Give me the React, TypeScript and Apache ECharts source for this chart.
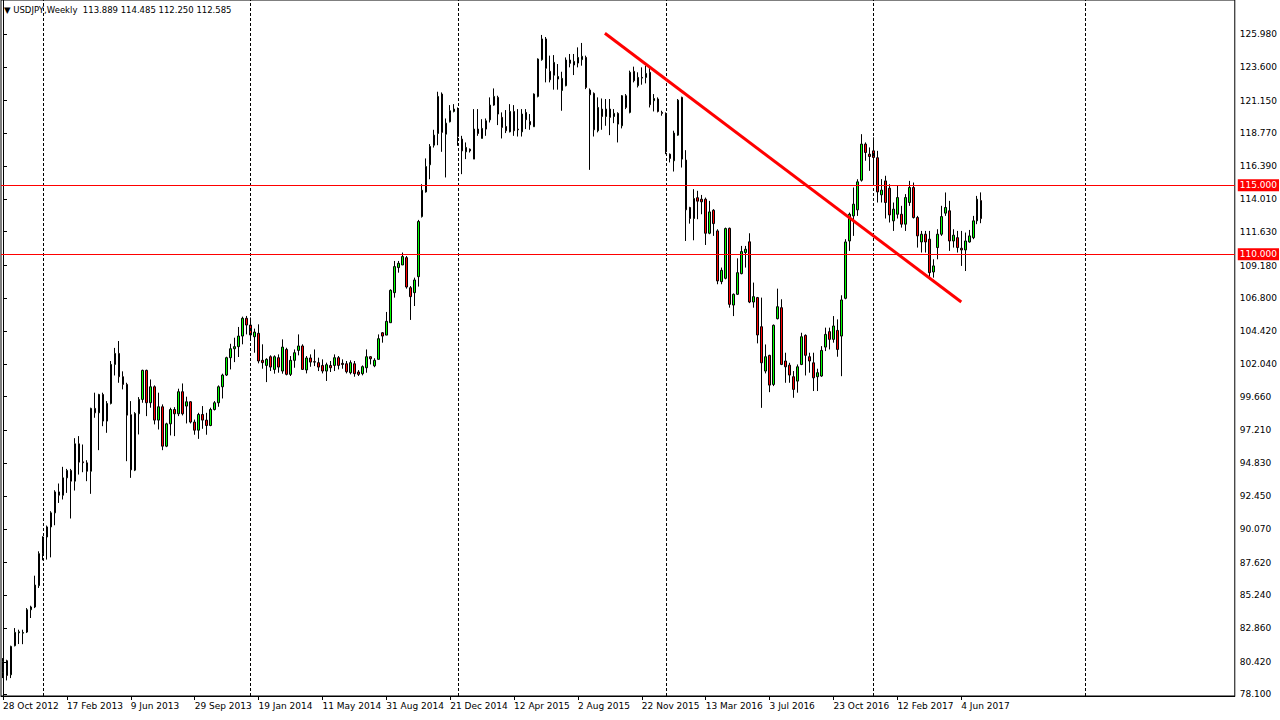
import React, { useEffect, useRef } from "react";
import * as echarts from "echarts";

const SYMBOL = "USDJPY,Weekly";
const START_UTC = Date.UTC(2012, 9, 28);
const TOTAL_SLOTS = 309;
const LABEL_EVERY = 16;
const MONTHS = ["Jan", "Feb", "Mar", "Apr", "May", "Jun", "Jul", "Aug", "Sep", "Oct", "Nov", "Dec"];

const opens = [
  79.67, 80.5, 79.48, 81.59, 82.53, 82.5, 82.58, 84.2, 84.4, 85.95,
  88.27, 89.48, 90.21, 91.23, 92.75, 92.51, 93.77, 94.3, 93.53, 96.24,
  94.93, 94.86, 94.25, 98.81, 98.49, 99.82, 97.89, 99.17, 102.0, 102.8,
  101.11, 100.55, 98.35, 94.33, 98.42, 99.46, 101.57, 99.22, 100.38, 97.96,
  98.93, 96.07, 97.69, 98.73, 98.42, 100.02, 98.98, 99.29, 97.82, 97.23,
  98.37, 97.96, 97.57, 98.73, 99.22, 100.38, 101.23, 102.49, 103.14, 103.29,
  104.06, 105.35, 104.86, 104.01, 104.26, 102.3, 101.93, 102.56, 101.64, 102.49,
  101.52, 103.09, 101.28, 102.3, 103.02, 103.34, 101.6, 102.47, 102.2, 102.13,
  101.93, 101.52, 101.93, 101.93, 102.49, 102.08, 102.05, 101.4, 102.05, 101.45,
  101.33, 101.76, 102.56, 101.9, 102.37, 104.3, 104.13, 105.03, 107.21, 109.03,
  109.22, 109.75, 107.57, 107.21, 108.37, 112.73, 114.52, 116.49, 117.91, 118.76,
  121.62, 118.71, 119.61, 120.36, 120.53, 118.35, 117.43, 117.62, 116.9, 119.08,
  118.4, 119.08, 119.75, 120.82, 121.38, 119.93, 119.27, 118.88, 120.36, 119.08,
  118.88, 120.29, 119.63, 119.25, 121.45, 124.12, 125.62, 123.27, 122.99, 122.71,
  121.88, 122.23, 124.09, 123.73, 123.87, 124.12, 124.28, 121.91, 121.67, 118.96,
  120.53, 119.99, 120.53, 119.99, 120.22, 119.32, 121.5, 120.29, 123.27, 122.23,
  122.83, 122.83, 123.2, 121.14, 121.26, 120.29, 120.22, 117.26, 116.78, 118.64,
  121.38, 116.83, 113.39, 112.59, 114.1, 113.99, 113.99, 111.52, 113.19, 111.69,
  108.01, 108.25, 111.88, 106.31, 107.09, 108.59, 110.12, 110.9, 106.53, 106.85,
  104.74, 101.52, 102.66, 100.55, 105.32, 106.12, 102.25, 101.95, 101.11, 100.79,
  102.0, 104.11, 102.56, 102.12, 101.11, 101.16, 103.26, 104.38, 103.82, 104.47,
  104.06, 106.8, 110.96, 112.78, 113.22, 115.37, 117.99, 117.26, 117.5, 117.0,
  114.31, 115.32, 114.79, 112.42, 112.9, 112.9, 112.18, 113.75, 114.84, 112.66,
  110.89, 111.45, 111.09, 108.71, 110.48, 111.45, 112.98, 113.15, 110.96, 111.2,
  110.43, 110.31, 110.89, 111.2, 112.42, 113.889,
];

const closes = [
  80.45, 79.43, 81.54, 82.56, 82.6, 82.55, 84.2, 84.4, 85.99, 88.27,
  89.48, 90.21, 91.23, 92.75, 92.51, 93.77, 94.3, 93.53, 96.24, 94.91,
  94.87, 94.25, 98.81, 98.49, 99.82, 97.89, 99.17, 102.0, 102.8, 101.11,
  100.55, 98.32, 94.35, 98.44, 99.46, 101.57, 99.22, 100.38, 97.96, 98.93,
  96.07, 97.69, 98.73, 98.42, 100.02, 98.42, 99.29, 97.82, 97.23, 98.37,
  97.96, 97.57, 98.73, 99.22, 100.38, 101.23, 102.49, 103.14, 103.29, 104.06,
  105.35, 104.86, 104.14, 104.35, 102.25, 102.13, 102.37, 101.81, 102.56, 101.81,
  103.26, 101.28, 102.3, 102.85, 103.34, 101.64, 102.47, 102.17, 102.17, 101.81,
  101.52, 101.98, 101.76, 102.49, 101.93, 102.0, 101.47, 102.13, 101.33, 101.28,
  101.84, 102.56, 102.41, 102.3, 103.87, 104.06, 105.13, 107.38, 109.1, 109.34,
  109.83, 107.62, 106.92, 108.13, 112.37, 114.64, 116.36, 117.82, 118.64, 121.45,
  118.84, 119.51, 120.41, 120.53, 118.54, 117.5, 117.75, 117.5, 119.08, 118.76,
  119.13, 119.68, 120.82, 121.45, 120.17, 119.2, 118.96, 120.36, 118.96, 119.03,
  120.17, 119.76, 119.39, 121.62, 124.16, 125.62, 123.49, 122.66, 123.92, 122.9,
  122.76, 124.09, 123.85, 123.99, 124.28, 124.36, 122.1, 121.57, 119.03, 120.65,
  119.99, 120.53, 119.93, 120.22, 119.44, 121.5, 120.65, 123.2, 122.59, 122.83,
  122.78, 123.12, 120.85, 121.3, 120.36, 120.22, 117.43, 116.95, 118.79, 121.18,
  116.9, 113.22, 112.59, 114.04, 113.85, 113.8, 111.52, 113.07, 112.22, 108.06,
  108.83, 111.86, 106.36, 107.09, 108.66, 110.19, 110.36, 106.53, 106.92, 104.14,
  102.12, 102.56, 100.5, 104.84, 106.19, 102.0, 101.83, 101.23, 100.19, 101.83,
  104.01, 102.66, 102.25, 101.03, 101.4, 103.02, 104.18, 103.82, 104.79, 103.09,
  106.68, 110.89, 112.9, 113.63, 115.25, 117.99, 117.38, 117.09, 117.02, 114.52,
  114.65, 113.75, 112.85, 113.27, 114.11, 112.18, 114.11, 114.84, 112.66, 111.33,
  111.45, 110.89, 108.66, 109.15, 111.45, 112.73, 113.39, 110.96, 111.38, 110.48,
  110.31, 110.96, 111.33, 112.42, 113.99, 112.585,
];

const lows = [
  79.24, 79.07, 79.24, 81.54, 81.71, 81.7, 82.51, 83.6, 84.32, 85.78,
  87.79, 87.84, 88.0, 90.33, 91.95, 92.2, 92.68, 90.82, 92.85, 94.01,
  94.18, 93.53, 92.61, 98.13, 95.78, 97.52, 97.04, 99.1, 101.2, 100.67,
  100.19, 94.98, 93.77, 94.26, 96.92, 99.22, 98.25, 98.86, 97.65, 97.28,
  95.78, 96.0, 96.85, 96.8, 98.25, 98.3, 97.72, 97.72, 96.9, 96.6,
  97.33, 96.9, 97.52, 98.66, 98.93, 99.53, 101.16, 101.64, 102.17, 102.54,
  103.46, 104.18, 103.7, 102.85, 102.08, 101.69, 100.72, 101.52, 101.33, 101.4,
  101.33, 101.21, 101.16, 101.76, 102.66, 101.6, 101.35, 101.83, 101.88, 101.52,
  101.35, 100.8, 101.45, 101.52, 101.64, 101.69, 101.35, 101.28, 101.11, 101.16,
  101.21, 101.4, 102.0, 101.8, 102.37, 103.58, 104.13, 105.03, 106.85, 108.66,
  109.22, 107.5, 105.23, 106.24, 107.65, 112.66, 114.47, 115.44, 117.74, 117.91,
  117.43, 115.57, 119.56, 120.29, 117.87, 115.81, 116.9, 117.38, 116.9, 118.59,
  118.4, 118.59, 119.56, 120.77, 119.37, 118.4, 118.79, 118.84, 118.59, 118.54,
  118.54, 119.08, 119.03, 119.25, 121.38, 124.04, 122.47, 122.47, 121.94, 121.94,
  120.41, 122.18, 123.56, 123.0, 123.56, 123.68, 121.98, 116.12, 118.54, 118.84,
  119.03, 119.32, 118.64, 119.51, 118.11, 119.13, 120.53, 120.22, 122.47, 122.1,
  122.3, 122.4, 120.65, 120.36, 120.29, 120.05, 117.26, 116.66, 116.0, 118.59,
  116.29, 110.96, 112.22, 111.01, 112.54, 112.9, 110.67, 111.45, 111.33, 107.82,
  107.82, 108.18, 106.12, 105.51, 107.04, 108.54, 109.03, 106.45, 106.12, 103.53,
  98.85, 101.35, 99.99, 100.43, 105.27, 101.95, 100.67, 100.67, 99.58, 99.95,
  101.95, 101.2, 101.4, 100.07, 100.07, 101.1, 102.97, 103.09, 103.58, 102.56,
  101.15, 106.73, 110.24, 111.33, 112.78, 115.27, 116.78, 116.05, 115.08, 113.75,
  113.75, 112.59, 112.3, 111.69, 112.59, 111.93, 111.69, 113.51, 112.59, 110.48,
  110.12, 110.12, 108.18, 108.3, 109.63, 111.33, 112.78, 110.24, 110.48, 110.12,
  109.15, 108.78, 110.84, 111.09, 112.18, 112.25,
];

const highs = [
  80.69, 80.57, 81.59, 82.87, 82.75, 82.75, 84.32, 84.49, 86.67, 88.44,
  89.53, 90.31, 91.35, 92.87, 93.36, 94.57, 94.42, 94.42, 96.65, 96.8,
  96.19, 95.05, 98.86, 99.95, 99.87, 99.95, 99.34, 102.25, 103.2, 103.7,
  101.5, 100.67, 99.34, 98.54, 99.63, 101.62, 101.62, 100.91, 100.48, 99.95,
  99.1, 97.77, 98.86, 98.9, 100.24, 100.62, 99.66, 99.34, 98.0, 98.49,
  98.98, 98.49, 98.86, 99.34, 100.48, 101.33, 102.56, 103.5, 103.94, 104.72,
  105.47, 105.52, 105.4, 104.6, 104.91, 103.46, 102.45, 102.66, 102.66, 102.73,
  103.82, 103.21, 102.61, 103.09, 104.18, 103.46, 102.61, 102.73, 103.09, 102.49,
  102.37, 102.13, 102.25, 102.73, 102.61, 102.37, 102.25, 102.3, 102.25, 101.59,
  101.93, 103.09, 102.6, 102.45, 104.18, 104.35, 105.81, 107.45, 109.51, 109.51,
  110.12, 109.87, 107.69, 108.3, 112.49, 115.08, 116.95, 117.99, 119.03, 121.79,
  121.74, 119.85, 120.82, 120.89, 120.65, 118.59, 118.11, 117.67, 120.53, 120.53,
  119.8, 119.85, 121.38, 122.03, 121.5, 120.29, 120.46, 120.89, 120.82, 120.53,
  120.53, 120.53, 120.17, 121.67, 124.21, 125.91, 125.76, 124.41, 124.45, 123.8,
  123.24, 124.28, 124.53, 124.53, 125.01, 125.33, 124.41, 122.03, 121.74, 121.38,
  121.3, 121.26, 121.26, 120.53, 120.3, 121.55, 121.62, 123.32, 123.61, 123.2,
  123.56, 123.68, 123.56, 121.62, 121.38, 120.41, 120.29, 117.31, 118.96, 121.26,
  121.43, 117.55, 113.44, 114.72, 114.6, 114.3, 114.11, 113.87, 113.27, 111.81,
  109.03, 111.93, 111.93, 107.15, 109.7, 110.6, 110.6, 111.52, 107.94, 106.9,
  106.85, 103.45, 102.7, 104.9, 107.5, 106.73, 102.85, 102.12, 101.52, 102.0,
  104.3, 104.18, 102.85, 102.85, 101.69, 103.33, 104.67, 104.67, 105.51, 105.27,
  107.02, 111.09, 113.02, 114.84, 115.44, 118.71, 118.11, 117.75, 118.47, 117.5,
  115.45, 115.69, 115.08, 113.75, 114.96, 113.51, 114.36, 115.32, 115.2, 112.78,
  111.69, 111.69, 111.69, 109.63, 111.81, 113.51, 114.48, 113.87, 111.81, 111.69,
  111.69, 111.57, 111.76, 112.78, 114.23, 114.485,
];

const yTickValues = [
  78.1, 80.42, 82.86, 85.24, 87.62, 90.07, 92.45, 94.83, 97.21, 99.66, 102.04,
  104.42, 106.8, 109.18, 111.63, 114.01, 116.39, 118.77, 121.15, 123.6, 125.98,
];

const levelLines = [115, 110];
const trendLine = [
  [150.75, 126.03],
  [240, 106.53],
];

const FONT = "'DejaVu Sans', sans-serif";

function slotDate(i: number) {
  return new Date(START_UTC + i * 7 * 86400000);
}
function fmtDate(i: number) {
  const d = slotDate(i);
  return `${d.getUTCDate()} ${MONTHS[d.getUTCMonth()]} ${d.getUTCFullYear()}`;
}

const categories = Array.from({ length: TOTAL_SLOTS }, (_, i) => fmtDate(i));
const yearStarts: number[] = [];
for (let i = 1; i < TOTAL_SLOTS; i++) {
  if (slotDate(i).getUTCFullYear() !== slotDate(i - 1).getUTCFullYear()) yearStarts.push(i);
}
const lastIdx = opens.length - 1;

export default function App() {
  const ref = useRef<HTMLDivElement>(null);
  useEffect(() => {
    if (!ref.current) return;
    const chart = echarts.init(ref.current, undefined, { renderer: "svg" });
    const candleData = opens.map((o, i) => [o, closes[i], lows[i], highs[i]]);
    const header = `▼ ${SYMBOL}  ${opens[lastIdx].toFixed(3)} ${highs[lastIdx].toFixed(3)} ${lows[lastIdx].toFixed(3)} ${closes[lastIdx].toFixed(3)}`;
    const labelShow = (i: number) => i % LABEL_EVERY === 0 && i <= lastIdx;
    const tagLabel = (bg: string, text: string) => ({
      show: true,
      position: "end",
      distance: 3,
      formatter: text,
      backgroundColor: bg,
      color: "#fff",
      padding: [2, 2, 1, 2],
      fontSize: 9,
      fontFamily: FONT,
    });
    chart.setOption({
      animation: false,
      backgroundColor: "#fff",
      title: {
        text: header,
        left: 4,
        top: 5,
        padding: 0,
        textStyle: { fontSize: 8.5, fontWeight: "normal", fontFamily: FONT, color: "#000" },
      },
      grid: {
        left: 0,
        top: 0,
        right: 44,
        bottom: 24,
        show: true,
        borderColor: "#000",
        borderWidth: 1,
        backgroundColor: "#fff",
      },
      xAxis: [
        {
          type: "category",
          data: categories,
          boundaryGap: true,
          axisLine: { show: true, lineStyle: { color: "#000" } },
          axisTick: {
            show: true,
            alignWithLabel: true,
            length: 4,
            interval: (i: number) => labelShow(i),
            lineStyle: { color: "#000" },
          },
          axisLabel: {
            interval: (i: number) => labelShow(i),
            align: "left",
            margin: 5,
            color: "#000",
            fontSize: 9,
            fontFamily: FONT,
          },
          splitLine: { show: false },
        },
        {
          type: "value",
          min: -0.5,
          max: TOTAL_SLOTS - 0.5,
          show: false,
        },
      ],
      yAxis: {
        type: "value",
        position: "right",
        min: 77.94,
        max: 128.447,
        scale: true,
        axisLine: { show: true, lineStyle: { color: "#000" } },
        axisTick: { show: true, length: 4, customValues: yTickValues, lineStyle: { color: "#000" } },
        axisLabel: {
          customValues: yTickValues,
          formatter: (v: number) => v.toFixed(3),
          margin: 5,
          color: "#000",
          fontSize: 9,
          fontFamily: FONT,
        },
        splitLine: { show: false },
      },
      series: [
        {
          type: "candlestick",
          data: candleData,
          barWidth: 2,
          itemStyle: {
            color: "#00ff00",
            color0: "#ff0000",
            borderColor: "#000",
            borderColor0: "#000",
            borderWidth: 1,
          },
          markLine: {
            silent: true,
            symbol: ["none", "none"],
            animation: false,
            data: [
              ...yearStarts.map((i) => ({
                xAxis: categories[i],
                lineStyle: { color: "#000", type: [3, 2], width: 1 },
                label: { show: false },
              })),
              ...levelLines.map((v) => ({
                yAxis: v,
                lineStyle: { color: "#ff0000", type: "solid", width: 1 },
                label: tagLabel("#ff0000", v.toFixed(3)),
              })),
              {
                yAxis: closes[lastIdx],
                lineStyle: { opacity: 0, width: 0 },
                label: tagLabel("#000", closes[lastIdx].toFixed(3)),
              },
            ],
          },
        },
        {
          type: "line",
          xAxisIndex: 1,
          data: trendLine,
          symbol: "none",
          silent: true,
          z: 5,
          lineStyle: { color: "#ff0000", width: 3 },
        },
      ],
    });
    return () => chart.dispose();
  }, []);
  return (
    <div
      ref={ref}
      style={{ position: "fixed", left: 0, top: 0, width: 1280, height: 720, background: "#fff" }}
    />
  );
}
